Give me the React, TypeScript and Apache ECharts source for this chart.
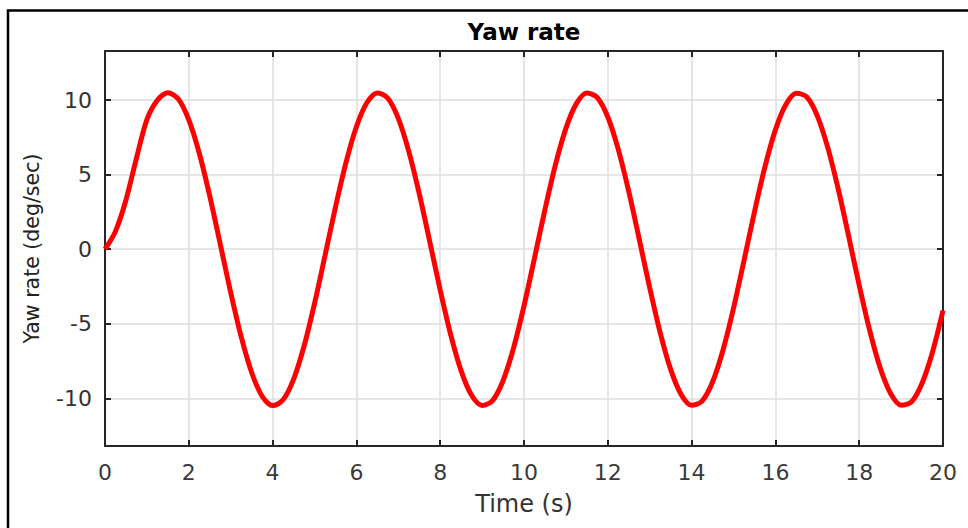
import React, { useEffect, useRef } from "react";
import * as echarts from "echarts";

const timeSeconds = [
  0, 0.25, 0.5, 0.75, 1, 1.25, 1.5, 1.75, 2, 2.25, 2.5, 2.75, 3, 3.25, 3.5, 3.75,
  4, 4.25, 4.5, 4.75, 5, 5.25, 5.5, 5.75, 6, 6.25, 6.5, 6.75, 7, 7.25, 7.5, 7.75,
  8, 8.25, 8.5, 8.75, 9, 9.25, 9.5, 9.75, 10, 10.25, 10.5, 10.75, 11, 11.25, 11.5, 11.75,
  12, 12.25, 12.5, 12.75, 13, 13.25, 13.5, 13.75, 14, 14.25, 14.5, 14.75, 15, 15.25, 15.5, 15.75,
  16, 16.25, 16.5, 16.75, 17, 17.25, 17.5, 17.75, 18, 18.25, 18.5, 18.75, 19, 19.25, 19.5, 19.75, 20,
];

const yawRateDegPerSec = [
  0, 1.2, 3.3, 6.1, 8.7, 10.0, 10.5, 10.08, 8.68, 6.44, 3.57, 0.35, -2.9, -5.87, -8.27, -9.86,
  -10.49, -10.1, -8.73, -6.51, -3.65, -0.44, 2.82, 5.8, 8.22, 9.83, 10.49, 10.13, 8.78, 6.57, 3.73, 0.52,
  -2.74, -5.73, -8.16, -9.8, -10.48, -10.15, -8.82, -6.63, -3.8, -0.6, 2.66, 5.66, 8.11, 9.77, 10.48, 10.17,
  8.87, 6.7, 3.88, 0.68, -2.58, -5.59, -8.06, -9.74, -10.47, -10.19, -8.91, -6.76, -3.96, -0.77, 2.5, 5.52,
  8.01, 9.71, 10.47, 10.21, 8.95, 6.82, 4.03, 0.85, -2.42, -5.45, -7.95, -9.68, -10.46, -10.23, -8.99, -6.89, -4.11,
];

const chartTitle = "Yaw rate";
const xAxisTitle = "Time (s)";
const yAxisTitle = "Yaw rate (deg/sec)";

const FONT = "DejaVu Sans";

export default function App() {
  const ref = useRef<HTMLDivElement>(null);

  useEffect(() => {
    if (!ref.current) return;
    const chart = echarts.init(ref.current, undefined, { renderer: "svg" });
    const axisLine = { show: true, onZero: false, lineStyle: { color: "#262626", width: 2 } };
    const tick = { show: true, inside: true, length: 6, lineStyle: { color: "#262626", width: 2 } };
    const grid = { show: true, lineStyle: { color: "#dedede", width: 1.5 } };
    chart.setOption({
      animation: false,
      backgroundColor: "#ffffff",
      title: {
        text: chartTitle,
        left: 519,
        top: 15,
        textAlign: "center",
        textStyle: { fontFamily: FONT, fontSize: 23, fontWeight: "bold", color: "#000" },
      },
      graphic: [
        {
          type: "rect",
          shape: { x: 8, y: 10.5, width: 1100, height: 700 },
          style: { fill: "none", stroke: "#000", lineWidth: 2.5 },
          silent: true,
        },
      ],
      grid: { left: 105, top: 51, right: 25, bottom: 82 },
      xAxis: [
        {
          type: "value",
          position: "bottom",
          min: 0,
          max: 20,
          interval: 2,
          axisLine,
          axisTick: tick,
          splitLine: grid,
          axisLabel: { fontFamily: FONT, fontSize: 22, color: "#3a3a3a", margin: 15 },
          name: xAxisTitle,
          nameLocation: "middle",
          nameGap: 46,
          nameTextStyle: { fontFamily: FONT, fontSize: 24, color: "#333" },
        },
        {
          type: "value",
          position: "top",
          min: 0,
          max: 20,
          interval: 2,
          axisLine,
          axisTick: tick,
          splitLine: { show: false },
          axisLabel: { show: false },
        },
      ],
      yAxis: [
        {
          type: "value",
          position: "left",
          min: -13.2,
          max: 13.3,
          splitNumber: 5,
          axisLine,
          axisTick: tick,
          splitLine: grid,
          axisLabel: {
            fontFamily: FONT,
            fontSize: 22,
            color: "#333",
            margin: 13,
            showMinLabel: false,
            showMaxLabel: false,
          },
          name: yAxisTitle,
          nameLocation: "middle",
          nameGap: 63,
          nameRotate: 90,
          nameTextStyle: { fontFamily: FONT, fontSize: 20.5, color: "#222" },
        },
        {
          type: "value",
          position: "right",
          min: -13.2,
          max: 13.3,
          splitNumber: 5,
          axisLine,
          axisTick: tick,
          splitLine: { show: false },
          axisLabel: { show: false },
        },
      ],
      series: [
        {
          type: "line",
          xAxisIndex: 0,
          yAxisIndex: 0,
          data: timeSeconds.map((t, i) => [t, yawRateDegPerSec[i]]),
          showSymbol: false,
          smooth: 0.3,
          lineStyle: { color: "#ff0000", width: 5 },
          itemStyle: { color: "#ff0000" },
          z: 3,
        },
      ],
    });
    return () => chart.dispose();
  }, []);

  return (
    <div
      ref={ref}
      style={{ position: "absolute", left: 0, top: 0, width: 968, height: 528 }}
    />
  );
}
